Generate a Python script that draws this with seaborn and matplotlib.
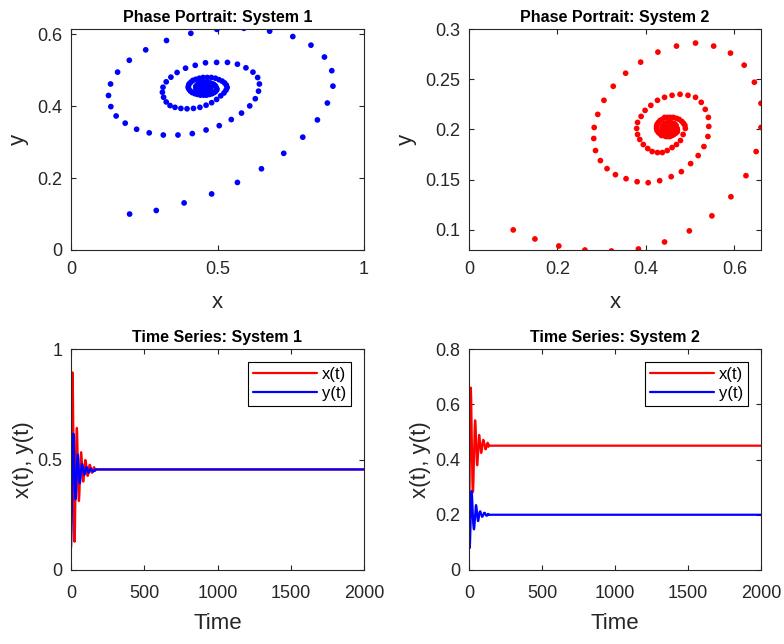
import numpy as np
import pandas as pd
import matplotlib
matplotlib.use("Agg")
import matplotlib.pyplot as plt
import seaborn as sns

# ---------------- data ----------------
# System 1 trajectory (sampled at unit time steps)
x1 = [0.200, 0.291, 0.386, 0.480, 0.568, 0.650, 0.726, 0.791, 0.841, 0.875,
      0.894, 0.890, 0.865, 0.819, 0.757, 0.678, 0.590, 0.498, 0.409, 0.326,
      0.255, 0.199, 0.159, 0.135, 0.128, 0.136, 0.154, 0.185, 0.224, 0.267,
      0.315, 0.365, 0.414, 0.461, 0.506, 0.547, 0.582, 0.610, 0.629, 0.640,
      0.643, 0.637, 0.621, 0.597, 0.568, 0.534, 0.497, 0.459, 0.424, 0.391,
      0.362, 0.341, 0.325, 0.314, 0.312, 0.316, 0.325, 0.338, 0.355, 0.375,
      0.396, 0.418, 0.440, 0.461, 0.480, 0.497, 0.511, 0.522, 0.529,
      0.533, 0.530, 0.524, 0.516, 0.505, 0.493, 0.479, 0.465, 0.451, 0.438,
      0.426, 0.416, 0.409, 0.403, 0.401, 0.400, 0.403, 0.408, 0.414, 0.423,
      0.432, 0.442, 0.453, 0.463, 0.473, 0.481, 0.488, 0.493, 0.497, 0.498,
      0.496, 0.494, 0.491, 0.487, 0.481, 0.474, 0.467, 0.460, 0.452, 0.446,
      0.439, 0.434, 0.430, 0.427, 0.426, 0.426, 0.427, 0.430, 0.433, 0.438,
      0.443, 0.448, 0.453, 0.459, 0.463, 0.468, 0.471, 0.474, 0.476, 0.476,
      0.475, 0.474, 0.473, 0.470, 0.468, 0.464, 0.461, 0.457, 0.453, 0.450,
      0.447, 0.444, 0.442, 0.441, 0.440, 0.440, 0.441, 0.442, 0.444, 0.446,
      0.448, 0.451, 0.454, 0.456, 0.459, 0.461, 0.463, 0.464, 0.465, 0.465,
      0.462, 0.458, 0.454, 0.452, 0.453, 0.455, 0.457]
y1 = [0.100, 0.110, 0.131, 0.156, 0.188, 0.226, 0.269, 0.314, 0.362, 0.409,
      0.456, 0.499, 0.537, 0.570, 0.594, 0.609, 0.617, 0.614, 0.603, 0.583,
      0.557, 0.528, 0.495, 0.462, 0.430, 0.399, 0.373, 0.353, 0.336, 0.326,
      0.320, 0.320, 0.324, 0.334, 0.346, 0.363, 0.381, 0.401, 0.421, 0.442,
      0.462, 0.480, 0.495, 0.507, 0.517, 0.522, 0.522, 0.521, 0.514, 0.506,
      0.494, 0.481, 0.468, 0.453, 0.439, 0.425, 0.412, 0.402, 0.397, 0.394,
      0.393, 0.394, 0.397, 0.403, 0.410, 0.419, 0.429, 0.437, 0.445,
      0.452, 0.459, 0.465, 0.470, 0.474, 0.478, 0.480, 0.480, 0.480, 0.478,
      0.475, 0.472, 0.467, 0.462, 0.457, 0.452, 0.447, 0.442, 0.438, 0.435,
      0.433, 0.431, 0.431, 0.431, 0.433, 0.435, 0.438, 0.441, 0.445, 0.448,
      0.451, 0.455, 0.458, 0.461, 0.463, 0.465, 0.466, 0.466, 0.466, 0.465,
      0.464, 0.462, 0.459, 0.456, 0.454, 0.451, 0.448, 0.446, 0.444, 0.442,
      0.441, 0.440, 0.440, 0.440, 0.441, 0.442, 0.444, 0.445, 0.447, 0.449,
      0.451, 0.453, 0.454, 0.456, 0.457, 0.458, 0.458, 0.459, 0.459, 0.458,
      0.457, 0.456, 0.455, 0.454, 0.452, 0.451, 0.450, 0.448, 0.447, 0.447,
      0.446, 0.446, 0.446, 0.446, 0.446, 0.447, 0.447, 0.448, 0.449, 0.450,
      0.452, 0.453, 0.452, 0.450, 0.449, 0.449, 0.450]
x1_eq, y1_eq = 0.455, 0.455

# System 2 trajectory (sampled at unit time steps)
x2 = [0.100, 0.149, 0.203, 0.262, 0.322, 0.383, 0.442, 0.498, 0.549, 0.592,
      0.626, 0.649, 0.660, 0.660, 0.645, 0.622, 0.591, 0.553, 0.512, 0.469,
      0.427, 0.388, 0.354, 0.326, 0.305, 0.291, 0.283, 0.282, 0.286, 0.297,
      0.312, 0.331, 0.355, 0.380, 0.405, 0.431, 0.457, 0.480, 0.501, 0.518,
      0.531, 0.540, 0.542, 0.541, 0.534, 0.525, 0.512, 0.495, 0.477, 0.459,
      0.442, 0.426, 0.411, 0.398, 0.389, 0.381, 0.379, 0.381, 0.386, 0.394,
      0.404, 0.414, 0.426, 0.437, 0.448, 0.459, 0.469, 0.478, 0.484,
      0.489, 0.488, 0.485, 0.481, 0.475, 0.469, 0.462, 0.455, 0.449, 0.442,
      0.437, 0.432, 0.428, 0.425, 0.424, 0.424, 0.425, 0.428, 0.431, 0.435,
      0.440, 0.445, 0.450, 0.454, 0.459, 0.463, 0.466, 0.469, 0.471, 0.471,
      0.470, 0.469, 0.468, 0.466, 0.463, 0.460, 0.456, 0.453, 0.449, 0.446,
      0.443, 0.441, 0.439, 0.437, 0.437, 0.437, 0.437, 0.439, 0.440, 0.442,
      0.445, 0.447, 0.450, 0.452, 0.455, 0.457, 0.458, 0.459, 0.460, 0.461,
      0.459, 0.455, 0.451, 0.447, 0.446, 0.448, 0.451, 0.454]
y2 = [0.100, 0.091, 0.084, 0.080, 0.079, 0.081, 0.088, 0.099, 0.114, 0.133,
      0.154, 0.178, 0.202, 0.226, 0.247, 0.264, 0.276, 0.283, 0.286, 0.283,
      0.277, 0.267, 0.256, 0.243, 0.229, 0.215, 0.202, 0.191, 0.179, 0.169,
      0.161, 0.155, 0.151, 0.148, 0.147, 0.149, 0.153, 0.158, 0.166, 0.174,
      0.183, 0.193, 0.203, 0.212, 0.220, 0.227, 0.232, 0.234, 0.235, 0.234,
      0.232, 0.229, 0.224, 0.219, 0.213, 0.207, 0.201, 0.195, 0.190, 0.185,
      0.181, 0.178, 0.177, 0.177, 0.179, 0.182, 0.185, 0.189, 0.195,
      0.201, 0.204, 0.206, 0.208, 0.210, 0.211, 0.212, 0.212, 0.212, 0.212,
      0.210, 0.209, 0.207, 0.205, 0.203, 0.201, 0.199, 0.197, 0.196, 0.194,
      0.194, 0.193, 0.193, 0.193, 0.194, 0.195, 0.196, 0.197, 0.198, 0.200,
      0.201, 0.202, 0.204, 0.205, 0.206, 0.206, 0.207, 0.207, 0.207, 0.206,
      0.206, 0.205, 0.204, 0.203, 0.202, 0.201, 0.200, 0.199, 0.198, 0.198,
      0.197, 0.197, 0.197, 0.197, 0.197, 0.198, 0.198, 0.199, 0.200, 0.200,
      0.202, 0.203, 0.203, 0.202, 0.200, 0.199, 0.199, 0.200]
x2_eq, y2_eq = 0.450, 0.200

t_end = 2000

titles = ["Phase Portrait: System 1", "Phase Portrait: System 2",
          "Time Series: System 1", "Time Series: System 2"]
series_labels = ["x(t)", "y(t)"]

# ---------------- styling ----------------
sns.set_theme(style="white")
plt.rcParams["font.family"] = ["Liberation Sans", "DejaVu Sans"]
plt.rcParams["axes.edgecolor"] = "#262626"
plt.rcParams["axes.linewidth"] = 0.8
plt.rcParams["xtick.color"] = "#262626"
plt.rcParams["ytick.color"] = "#262626"
plt.rcParams["text.color"] = "#000000"

W, H = 784, 644
fig = plt.figure(figsize=(W / 100, H / 100), dpi=100)


def add_ax(l, t, r, b):
    return fig.add_axes([l / W, (H - b) / H, (r - l) / W, (b - t) / H])


ax_tl = add_ax(71, 29, 364, 250)
ax_tr = add_ax(469, 29, 761, 250)
ax_bl = add_ax(71, 349, 364, 570)
ax_br = add_ax(469, 349, 761, 570)

TICK_FS = 13
LABEL_FS = 16
TITLE_FS = 11.5


def style(ax, xpad):
    ax.tick_params(direction="in", top=True, right=True, length=3.5,
                   width=0.8, labelsize=TICK_FS, pad=6,
                   bottom=True, left=True)
    ax.tick_params(axis="x", pad=xpad)
    for s in ax.spines.values():
        s.set_visible(True)
        s.set_color("#262626")


def build_series(xs, ys, xe, ye):
    t = list(range(len(xs) + 1)) + [t_end]
    return pd.DataFrame({"t": t,
                         "x": list(xs) + [xe, xe],
                         "y": list(ys) + [ye, ye]})


# Phase portraits
for ax, xs, ys, col, title in [(ax_tl, x1, y1, (0, 0, 1), titles[0]),
                               (ax_tr, x2, y2, (1, 0, 0), titles[1])]:
    df = pd.DataFrame({"x": xs, "y": ys})
    sns.scatterplot(data=df, x="x", y="y", ax=ax, color=col, s=17,
                    linewidth=0, edgecolor="none")
    ax.set_title(title, fontsize=TITLE_FS, fontweight="bold", pad=5)
    ax.set_xlabel("x", fontsize=LABEL_FS, labelpad=10)
    ax.set_ylabel("y", fontsize=LABEL_FS, labelpad=6)
    style(ax, 8)

ax_tl.set_xlim(0, 1)
ax_tl.set_ylim(0, 0.615)
ax_tl.set_xticks([0, 0.5, 1])
ax_tl.set_xticklabels(["0", "0.5", "1"])
ax_tl.set_yticks([0, 0.2, 0.4, 0.6])
ax_tl.set_yticklabels(["0", "0.2", "0.4", "0.6"])

ax_tr.set_xlim(0, 0.66)
ax_tr.set_ylim(0.08, 0.3)
ax_tr.set_xticks([0, 0.2, 0.4, 0.6])
ax_tr.set_xticklabels(["0", "0.2", "0.4", "0.6"])
ax_tr.set_yticks([0.1, 0.15, 0.2, 0.25, 0.3])
ax_tr.set_yticklabels(["0.1", "0.15", "0.2", "0.25", "0.3"])

# Time series
for ax, xs, ys, xe, ye, title in [(ax_bl, x1, y1, x1_eq, y1_eq, titles[2]),
                                  (ax_br, x2, y2, x2_eq, y2_eq, titles[3])]:
    df = build_series(xs, ys, xe, ye)
    sns.lineplot(data=df, x="t", y="x", ax=ax, color=(1, 0, 0), lw=1.6,
                 label=series_labels[0], estimator=None, sort=False)
    sns.lineplot(data=df, x="t", y="y", ax=ax, color=(0, 0, 1), lw=1.6,
                 label=series_labels[1], estimator=None, sort=False)
    ax.set_title(title, fontsize=TITLE_FS, fontweight="bold", pad=5)
    ax.set_xlabel("Time", fontsize=LABEL_FS, labelpad=8)
    ax.set_ylabel("x(t), y(t)", fontsize=LABEL_FS, labelpad=3)
    ax.set_xlim(0, 2000)
    ax.set_xticks([0, 500, 1000, 1500, 2000])
    leg = ax.legend(loc="upper right", fontsize=12, frameon=True,
                    fancybox=False, edgecolor="black", framealpha=1,
                    handlelength=3.8, borderaxespad=0.78, borderpad=0.3,
                    labelspacing=0.25, handletextpad=0.3)
    leg.get_frame().set_linewidth(0.8)
    style(ax, 11)

ax_bl.set_ylim(0, 1)
ax_bl.set_yticks([0, 0.5, 1])
ax_bl.set_yticklabels(["0", "0.5", "1"])
ax_br.set_ylim(0, 0.8)
ax_br.set_yticks([0, 0.2, 0.4, 0.6, 0.8])
ax_br.set_yticklabels(["0", "0.2", "0.4", "0.6", "0.8"])

fig.savefig("out.png", dpi=100, facecolor="white")
